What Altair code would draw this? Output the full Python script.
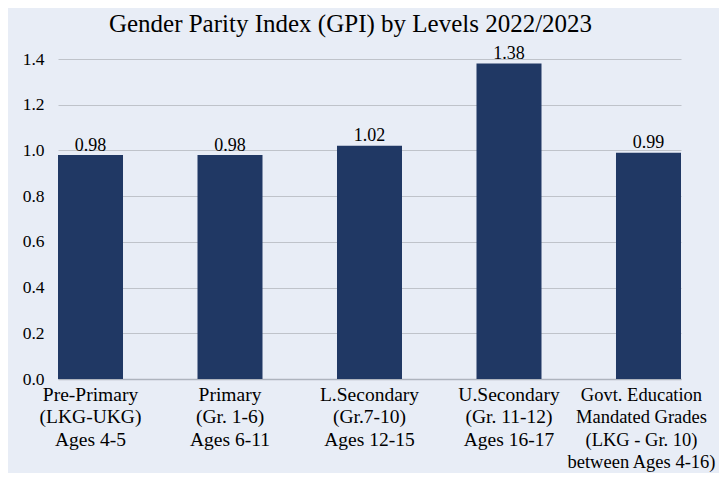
import altair as alt
import pandas as pd

categories = [
    "Pre-Primary|(LKG-UKG)|Ages 4-5",
    "Primary|(Gr. 1-6)|Ages 6-11",
    "L.Secondary|(Gr.7-10)|Ages 12-15",
    "U.Secondary|(Gr. 11-12)|Ages 16-17",
    "Govt. Education|Mandated Grades|(LKG - Gr. 10)|between Ages 4-16)",
]
values = [0.98, 0.98, 1.02, 1.38, 0.99]
labels = ["0.98", "0.98", "1.02", "1.38", "0.99"]

df = pd.DataFrame({"cat": categories, "val": values, "lab": labels})

FONT = "Liberation Serif"
BG = "#E8EDF6"
LAST = "indexof(datum.value, 'Govt') == 0"

x = alt.X(
    "cat:N",
    sort=categories,
    scale=alt.Scale(paddingInner=0.534, paddingOuter=0),
    axis=alt.Axis(
        title=None,
        labelAngle=0,
        labelExpr="split(datum.label, '|')",
        labelFont=FONT,
        labelFontSize={"condition": {"test": LAST, "value": 18.5}, "value": 19.5},
        labelOffset={"condition": {"test": LAST, "value": -7}, "value": 0},
        labelColor="#000000",
        labelLineHeight=22.5,
        labelPadding=6,
        labelOverlap=False,
        labelBound=False,
        labelLimit=400,
        ticks=False,
        domain=True,
        domainColor="#AEB4BE",
        domainWidth=1.5,
        grid=False,
    ),
)

bars = alt.Chart(df).mark_bar(color="#203864").encode(
    x=x,
    y=alt.Y(
        "val:Q",
        scale=alt.Scale(domain=[0, 1.4], nice=False),
        axis=alt.Axis(
            title=None,
            values=[0, 0.2, 0.4, 0.6, 0.8, 1.0, 1.2, 1.4],
            format=".1f",
            labelFont=FONT,
            labelFontSize=17.5,
            labelColor="#000000",
            labelPadding=14,
            ticks=False,
            domain=False,
            grid=True,
            gridColor="#BFC3CA",
            gridWidth=1,
        ),
    ),
)

text = alt.Chart(df).mark_text(
    baseline="alphabetic", dy=-4.5, font=FONT, fontSize=18, color="#000000"
).encode(
    x=alt.X("cat:N", sort=categories),
    y="val:Q",
    text="lab:N",
)

chart = (
    alt.layer(bars, text)
    .properties(
        width=623,
        height=320,
        autosize=alt.AutoSizeParams(type="none"),
        padding={"left": 50, "top": 51, "right": 38, "bottom": 94},
        background=BG,
        title=alt.TitleParams(
            "Gender Parity Index (GPI) by Levels 2022/2023",
            font=FONT,
            fontSize=25,
            fontWeight="normal",
            color="#000000",
            anchor="middle",
            dx=-19,
            offset=8,
        ),
    )
    .configure(font=FONT)
    .configure_view(stroke=None)
)

chart.save("out.html", embed_options={"renderer": "svg", "actions": False})
